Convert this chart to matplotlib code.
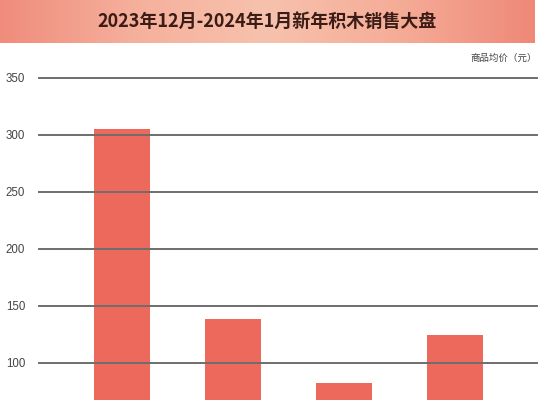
import matplotlib
matplotlib.use("Agg")
import matplotlib.pyplot as plt
import numpy as np
from matplotlib.colors import LinearSegmentedColormap

plt.rcParams['font.family'] = ['Noto Sans CJK SC', 'DejaVu Sans']

title = "2023年12月-2024年1月新年积木销售大盘"
unit_label = "商品均价（元）"
categories = ["A", "B", "C", "D"]
avg_price = [305, 138, 82, 124]
yticks = [100, 150, 200, 250, 300, 350]

W, H = 542, 400
fig = plt.figure(figsize=(W / 100, H / 100), dpi=100)
fig.patch.set_facecolor("white")

# Title banner with gradient
bax = fig.add_axes([0, 1 - 43 / H, 535 / W, 43 / H])
cmap = LinearSegmentedColormap.from_list(
    "banner", ["#f08c7c", "#f5b09c", "#f7c2ad", "#f5ac97", "#ef8878"])
grad = np.linspace(0, 1, 256).reshape(1, -1)
bax.imshow(grad, aspect="auto", cmap=cmap, extent=[0, 1, 0, 1])
bax.set_axis_off()
bax.text(0.5, 0.5, title, ha="center", va="center", fontsize=13,
         fontweight="bold", color="#3b1c16", transform=bax.transAxes)

fig.text(537 / W, 1 - 58 / H, unit_label, ha="right", va="center",
         fontsize=6.8, color="#444444")

# Main axes
left_px, right_px = 39, 537
top_px = 77.5
ax = fig.add_axes([left_px / W, 0, (right_px - left_px) / W, (H - top_px) / H])
x = np.arange(len(categories))
ax.bar(x, avg_price, width=0.5, color="#ec695b", zorder=2)
spacing = 111.0
x0 = -(122 - left_px) / spacing
ax.set_xlim(x0, x0 + (right_px - left_px) / spacing)
px_per_unit = 57.0 / 50
ax.set_ylim(350 - (H - top_px) / px_per_unit, 350)
for v in yticks:
    ax.axhline(v, color="#6e6e6e", lw=1.4, zorder=3, clip_on=False)
ax.set_yticks(yticks)
ax.set_yticklabels([str(v) for v in yticks], fontsize=8.3, color="#444444",
                   family="Liberation Sans")
ax.tick_params(axis="y", length=0, pad=10)
ax.set_xticks([])
for s in ax.spines.values():
    s.set_visible(False)
ax.set_facecolor("none")

fig.savefig("out.png", dpi=100)
